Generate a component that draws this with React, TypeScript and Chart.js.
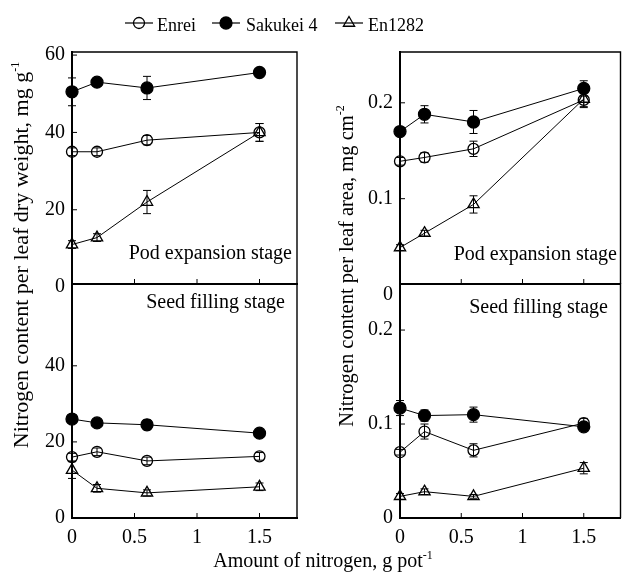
import React, { useEffect, useRef } from "react";
import { Chart, registerables } from "chart.js";

Chart.register(...registerables);

const FONT = "'Liberation Serif', 'Times New Roman', Times, serif";

// ---------- data ----------
const nitrogenLevels = [0, 0.2, 0.6, 1.5];
const xTicks = [0, 0.5, 1, 1.5];
const dwTicksPod = [0, 20, 40, 60];
const dwTicksSeed = [0, 20, 40];
const areaTicks = [0, 0.1, 0.2];
const seriesNames = ["Enrei", "Sakukei 4", "En1282"];

// Pod expansion stage, per leaf dry weight (mg g-1)
const podDwEnrei = [35, 35, 38, 40];
const podDwEnreiErr = [1, 1, 1.2, 2.3];
const podDwSakukei = [50.5, 53, 51.5, 55.5];
const podDwSakukeiErr = [3.6, 1, 3, 1];
const podDwEn1282 = [11, 12.8, 22, 40];
const podDwEn1282Err = [1, 1, 3, 2.3];

// Seed filling stage, per leaf dry weight (mg g-1)
const seedDwEnrei = [16, 17.4, 15, 16.2];
const seedDwEnreiErr = [1, 1, 1, 1];
const seedDwSakukei = [26, 25, 24.5, 22.3];
const seedDwSakukeiErr = [1, 1, 1.3, 1];
const seedDwEn1282 = [12.6, 7.8, 6.6, 8.2];
const seedDwEn1282Err = [2.2, 1, 0.8, 1];

// Pod expansion stage, per leaf area (mg cm-2)
const podAreaEnrei = [0.139, 0.143, 0.152, 0.203];
const podAreaEnreiErr = [0.004, 0.005, 0.008, 0.008];
const podAreaSakukei = [0.17, 0.188, 0.18, 0.215];
const podAreaSakukeiErr = [0.004, 0.009, 0.012, 0.008];
const podAreaEn1282 = [0.049, 0.064, 0.094, 0.204];
const podAreaEn1282Err = [0.003, 0.003, 0.009, 0.008];

// Seed filling stage, per leaf area (mg cm-2)
const seedAreaEnrei = [0.07, 0.092, 0.072, 0.101];
const seedAreaEnreiErr = [0.003, 0.008, 0.007, 0.005];
const seedAreaSakukei = [0.117, 0.109, 0.11, 0.097];
const seedAreaSakukeiErr = [0.008, 0.006, 0.008, 0.003];
const seedAreaEn1282 = [0.023, 0.028, 0.023, 0.053];
const seedAreaEn1282Err = [0.003, 0.003, 0.002, 0.006];

// ---------- layout / styles ----------
const W = 622;
const H = 579;

const markerStyles = [
  { pointStyle: "circle", radius: 5.5, fill: "rgba(255,255,255,0)" },
  { pointStyle: "circle", radius: 6, fill: "#000" },
  { pointStyle: "triangle", radius: 6.5, fill: "rgba(255,255,255,0)" },
];

type Spec = {
  left: number;
  top: number;
  right: number;
  bottom: number;
  yMin: number;
  yMax: number;
  yTicks: number[];
  showX: boolean;
  series: [number[], number[]][];
};

const panels: Spec[] = [
  {
    left: 72, top: 52, right: 297, bottom: 284,
    yMin: 0.8, yMax: 60.8, yTicks: dwTicksPod, showX: false,
    series: [[podDwEnrei, podDwEnreiErr], [podDwSakukei, podDwSakukeiErr], [podDwEn1282, podDwEn1282Err]],
  },
  {
    left: 72, top: 284, right: 297, bottom: 518,
    yMin: 0, yMax: 61.5, yTicks: dwTicksSeed, showX: true,
    series: [[seedDwEnrei, seedDwEnreiErr], [seedDwSakukei, seedDwSakukeiErr], [seedDwEn1282, seedDwEn1282Err]],
  },
  {
    left: 400, top: 52, right: 620.5, bottom: 284,
    yMin: 0.011, yMax: 0.253, yTicks: areaTicks, showX: false,
    series: [[podAreaEnrei, podAreaEnreiErr], [podAreaSakukei, podAreaSakukeiErr], [podAreaEn1282, podAreaEn1282Err]],
  },
  {
    left: 400, top: 284, right: 620.5, bottom: 518,
    yMin: 0, yMax: 0.249, yTicks: areaTicks, showX: true,
    series: [[seedAreaEnrei, seedAreaEnreiErr], [seedAreaSakukei, seedAreaSakukeiErr], [seedAreaEn1282, seedAreaEn1282Err]],
  },
];

const decorPlugin = {
  id: "panelDecor",
  beforeDatasetsDraw(chart: any) {
    const ctx = chart.ctx;
    const xs = chart.scales.x;
    const ys = chart.scales.y;
    ctx.save();
    ctx.strokeStyle = "#000";
    ctx.lineWidth = 1;
    chart.data.datasets.forEach((ds: any) => {
      const errs = ds.errorBars as number[] | undefined;
      if (!errs) return;
      ds.data.forEach((pt: any, i: number) => {
        const e = errs[i];
        if (!e) return;
        const x = xs.getPixelForValue(pt.x);
        const y1 = ys.getPixelForValue(pt.y + e);
        const y2 = ys.getPixelForValue(pt.y - e);
        ctx.beginPath();
        ctx.moveTo(x, y1);
        ctx.lineTo(x, y2);
        ctx.moveTo(x - 4, y1);
        ctx.lineTo(x + 4, y1);
        ctx.moveTo(x - 4, y2);
        ctx.lineTo(x + 4, y2);
        ctx.stroke();
      });
    });
    // frame: top and right edges + inward tick marks
    const L = xs.left;
    const R = xs.right;
    const T = ys.top;
    const B = ys.bottom;
    ctx.lineWidth = 1.4;
    ctx.beginPath();
    ctx.moveTo(L, T);
    ctx.lineTo(R, T);
    ctx.lineTo(R, B);
    ctx.stroke();
    ctx.lineWidth = 1;
    ys.ticks.forEach((t: any) => {
      const p = ys.getPixelForValue(t.value);
      if (p >= T + 1 && p <= B - 1) {
        ctx.beginPath();
        ctx.moveTo(L, p);
        ctx.lineTo(L + 5, p);
        ctx.stroke();
      }
    });
    xs.ticks.forEach((t: any) => {
      const p = xs.getPixelForValue(t.value);
      if (p > L + 1 && p < R - 1) {
        ctx.beginPath();
        ctx.moveTo(p, B);
        ctx.lineTo(p, B - 5);
        ctx.stroke();
      }
    });
    ctx.restore();
  },
};

function zeroPad(s: any) {
  s.paddingTop = 0;
  s.paddingBottom = 0;
  s.paddingLeft = 0;
  s.paddingRight = 0;
}

function Panel({ spec }: { spec: Spec }) {
  const ref = useRef<HTMLCanvasElement>(null);
  const AXW = 50;
  const padTop = 8;
  const padBottom = spec.showX ? 0 : 16;
  const XH = spec.showX ? 42 : 0;
  const cl = spec.left - AXW;
  const ct = spec.top - padTop;
  const cw = Math.round(spec.right + 2 - cl);
  const padRight = cw - (spec.right - cl);
  const ch = Math.round(spec.bottom + XH + padBottom - ct);

  useEffect(() => {
    const datasets = spec.series.map(([vals, errs], si) => ({
      label: seriesNames[si],
      data: nitrogenLevels.map((x, i) => ({ x, y: vals[i] })),
      errorBars: errs,
      borderColor: "#000",
      borderWidth: 1,
      pointStyle: markerStyles[si].pointStyle,
      pointRadius: markerStyles[si].radius,
      pointBackgroundColor: markerStyles[si].fill,
      pointBorderColor: "#000",
      pointBorderWidth: 1.3,
      tension: 0,
      fill: false,
      clip: false,
    }));
    const chart = new Chart(ref.current as HTMLCanvasElement, {
      type: "line",
      data: { datasets } as any,
      options: {
        animation: false,
        responsive: false,
        maintainAspectRatio: false,
        devicePixelRatio: 1,
        events: [],
        layout: {
          autoPadding: false,
          padding: { left: 0, top: padTop, right: padRight, bottom: padBottom },
        },
        plugins: { legend: { display: false }, tooltip: { enabled: false } },
        scales: {
          x: {
            type: "linear",
            min: 0,
            max: 1.8,
            afterBuildTicks: (s: any) => {
              s.ticks = xTicks.map((v) => ({ value: v }));
            },
            afterFit: (s: any) => {
              s.height = XH;
              zeroPad(s);
            },
            grid: { display: true, drawOnChartArea: false, drawTicks: false, color: "#000" },
            border: { display: true, color: "#000", width: 2 },
            ticks: {
              display: spec.showX,
              padding: 8,
              color: "#000",
              font: { family: FONT, size: 20 },
              maxRotation: 0,
              autoSkip: false,
              callback: (v: any) => String(v),
            },
          },
          y: {
            type: "linear",
            min: spec.yMin,
            max: spec.yMax,
            afterBuildTicks: (s: any) => {
              s.ticks = spec.yTicks.map((v) => ({ value: v }));
            },
            afterFit: (s: any) => {
              s.width = AXW;
              zeroPad(s);
            },
            grid: { display: true, drawOnChartArea: false, drawTicks: false, color: "#000" },
            border: { display: true, color: "#000", width: 2 },
            ticks: {
              padding: 7,
              color: "#000",
              font: { family: FONT, size: 20 },
              autoSkip: false,
              callback: (v: any) => String(v),
            },
          },
        },
      } as any,
      plugins: [decorPlugin],
    });
    return () => chart.destroy();
  }, []);

  return (
    <canvas
      ref={ref}
      width={cw}
      height={ch}
      style={{ position: "absolute", left: cl, top: ct, width: cw, height: ch }}
    />
  );
}

function LegendSymbol({ cx, kind }: { cx: number; kind: number }) {
  const y = 23;
  return (
    <g stroke="#000" strokeWidth={1.3}>
      <line x1={cx - 14} x2={cx + 14} y1={y} y2={y} strokeWidth={1.2} />
      {kind === 0 && <circle cx={cx} cy={y} r={5.5} fill="none" />}
      {kind === 1 && <circle cx={cx} cy={y} r={6} fill="#000" />}
      {kind === 2 && (
        <polygon
          points={`${cx},${y - 6.5} ${cx + 5.6},${y + 3.25} ${cx - 5.6},${y + 3.25}`}
          fill="none"
        />
      )}
    </g>
  );
}

export default function App() {
  const legendPos = [
    { sym: 139, text: 157 },
    { sym: 226, text: 246 },
    { sym: 349, text: 368 },
  ];
  return (
    <div
      style={{
        position: "fixed",
        left: 0,
        top: 0,
        width: W,
        height: H,
        background: "#fff",
        overflow: "hidden",
      }}
    >
      {panels.map((p, i) => (
        <Panel key={i} spec={p} />
      ))}
      <svg
        width={W}
        height={H}
        style={{ position: "absolute", left: 0, top: 0, pointerEvents: "none" }}
        fontFamily={FONT}
        fill="#000"
      >
        {seriesNames.map((n, i) => (
          <g key={n}>
            <LegendSymbol cx={legendPos[i].sym} kind={i} />
            <text x={legendPos[i].text} y={31} fontSize={18}>
              {n}
            </text>
          </g>
        ))}
        <text x={292} y={259} fontSize={20} textAnchor="end">Pod expansion stage</text>
        <text x={285} y={308} fontSize={20} textAnchor="end">Seed filling stage</text>
        <text x={617} y={260} fontSize={20} textAnchor="end">Pod expansion stage</text>
        <text x={608} y={313} fontSize={20} textAnchor="end">Seed filling stage</text>
        <text transform="translate(28,255) rotate(-90)" fontSize={22} textAnchor="middle">
          Nitrogen content per leaf dry weight, mg g<tspan fontSize={12} dy={-9}>-1</tspan>
        </text>
        <text transform="translate(353,266) rotate(-90)" fontSize={20.5} textAnchor="middle">
          Nitrogen content per leaf area, mg cm<tspan fontSize={12} dy={-9}>-2</tspan>
        </text>
        <text x={323} y={567} fontSize={20} textAnchor="middle">
          Amount of nitrogen, g pot<tspan fontSize={12} dy={-8}>-1</tspan>
        </text>
      </svg>
    </div>
  );
}
